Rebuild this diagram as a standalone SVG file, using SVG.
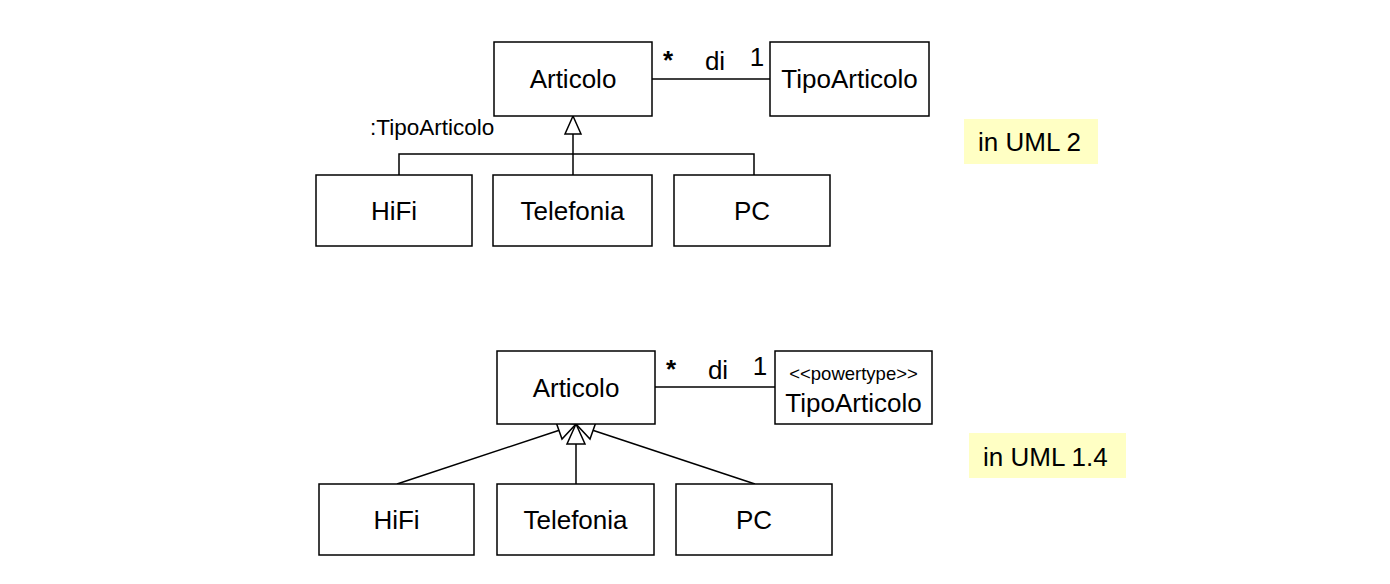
<svg xmlns="http://www.w3.org/2000/svg" width="1390" height="584" viewBox="0 0 1390 584">
<style>
.box{fill:#fff;stroke:#000;stroke-width:1.5}
.ln{fill:none;stroke:#000;stroke-width:1.5}
.tri{fill:#fff;stroke:#000;stroke-width:1.5;stroke-linejoin:miter}
text{font-family:"Liberation Sans",Arial,sans-serif;fill:#000}
.t{font-size:26px;text-anchor:middle}
.s{font-size:22.5px}
.m{font-size:26px}
.p{font-size:18.5px;text-anchor:middle}
.note{fill:#ffffc4}
</style>
<rect width="1390" height="584" fill="#fff"/>
<g id="connectors">
  <line class="ln" x1="652" y1="79" x2="770" y2="79"/>
  <polyline class="ln" points="399,175 399,154 754,154 754,175"/>
  <line class="ln" x1="573" y1="134" x2="573" y2="175"/>
  <polygon class="tri" points="573,116 565,134 581,134"/>
  <text class="m" x="668" y="69" text-anchor="middle" font-weight="bold">*</text>
  <text class="m" x="715" y="70" text-anchor="middle">di</text>
  <text class="m" x="757" y="66" text-anchor="middle">1</text>
  <text class="s" x="370" y="135">:TipoArticolo</text>

  <line class="ln" x1="655" y1="387" x2="775" y2="387"/>
  <line class="ln" x1="397" y1="484" x2="560" y2="430"/>
  <line class="ln" x1="755" y1="484" x2="592" y2="430"/>
  <line class="ln" x1="576" y1="444" x2="576" y2="484"/>
  <polygon class="tri" points="576,424 556,422 562,439"/>
  <polygon class="tri" points="576,424 596,422 590,439"/>
  <polygon class="tri" points="576,424 567,444 585,444"/>
  <text class="m" x="671" y="378" text-anchor="middle" font-weight="bold">*</text>
  <text class="m" x="718" y="379" text-anchor="middle">di</text>
  <text class="m" x="760" y="375" text-anchor="middle">1</text>
</g>
<g id="articolo1"><rect class="box" x="494" y="42" width="158" height="74"/><text class="t" x="573" y="88">Articolo</text></g>
<g id="tipo1"><rect class="box" x="770" y="42" width="159" height="74"/><text class="t" x="849.5" y="88">TipoArticolo</text></g>
<g id="hifi1"><rect class="box" x="316" y="175" width="156" height="71"/><text class="t" x="394" y="220">HiFi</text></g>
<g id="tel1"><rect class="box" x="493" y="175" width="159" height="71"/><text class="t" x="572.5" y="220">Telefonia</text></g>
<g id="pc1"><rect class="box" x="674" y="175" width="156" height="71"/><text class="t" x="752" y="220">PC</text></g>
<g id="uml2"><rect class="note" x="964" y="119" width="134" height="45"/><text class="m" x="978" y="151">in UML 2</text></g>

<g id="articolo2"><rect class="box" x="497" y="351" width="158" height="73"/><text class="t" x="576" y="397">Articolo</text></g>
<g id="tipo2"><rect class="box" x="775" y="351" width="157" height="73"/><text class="p" x="853.5" y="380">&lt;&lt;powertype&gt;&gt;</text><text class="t" x="853.5" y="412">TipoArticolo</text></g>
<g id="hifi2"><rect class="box" x="319" y="484" width="155" height="71"/><text class="t" x="396.5" y="529">HiFi</text></g>
<g id="tel2"><rect class="box" x="497" y="484" width="157" height="71"/><text class="t" x="575.5" y="529">Telefonia</text></g>
<g id="pc2"><rect class="box" x="676" y="484" width="156" height="71"/><text class="t" x="754" y="529">PC</text></g>
<g id="uml14"><rect class="note" x="969" y="433" width="157" height="45"/><text class="m" x="983" y="466">in UML 1.4</text></g>
</svg>
